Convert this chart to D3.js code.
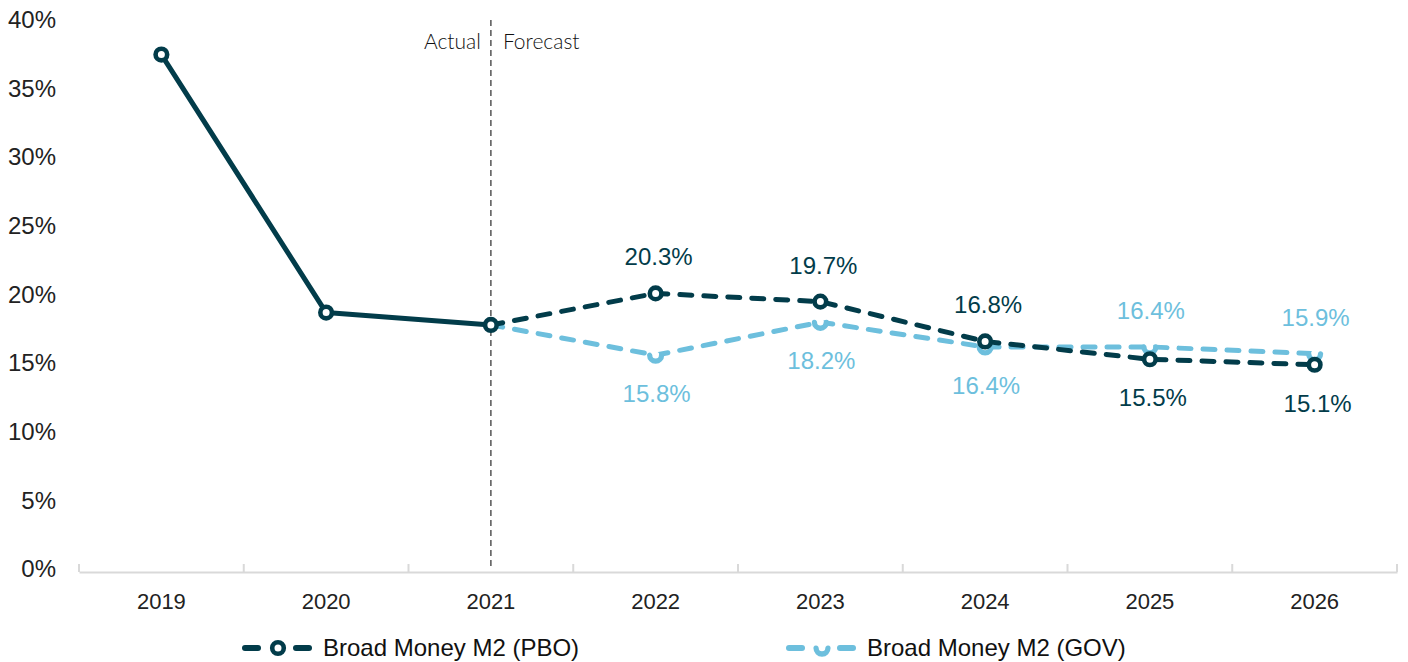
<!DOCTYPE html>
<html>
<head>
<meta charset="utf-8">
<script src="https://cdn.jsdelivr.net/npm/d3@7"></script>
<style>
  html, body { margin: 0; padding: 0; background: #fff; }
  svg { display: block; }
</style>
</head>
<body>
<svg id="chart" width="1408" height="662"></svg>
<script>
// ---------- data ----------
const years = ["2019", "2020", "2021", "2022", "2023", "2024", "2025", "2026"];
const pboValues = [37.7, 18.9, 18.0, 20.3, 19.7, 16.8, 15.5, 15.1];
const govValues = [null, null, 18.0, 15.8, 18.2, 16.4, 16.4, 15.9];
const lastActualYear = "2021";
const yTicks = [0, 5, 10, 15, 20, 25, 30, 35, 40];
const seriesNames = ["Broad Money M2 (PBO)", "Broad Money M2 (GOV)"];
const dividerLabels = ["Actual", "Forecast"];

// ---------- style ----------
const DARK = "#023c4a";
const LIGHT = "#6dbfdd";
const FONT = "'Liberation Sans', Arial, Helvetica, sans-serif";

const svg = d3.select("#chart");
const x = d3.scaleBand().domain(years).range([79, 1397]).paddingInner(0).paddingOuter(0);
const y = d3.scaleLinear().domain([0, 40]).range([572, 23]);
const cx = d => x(d) + x.bandwidth() / 2;

// ---------- y axis labels ----------
const yAxis = d3.axisLeft(y).tickValues(yTicks).tickFormat(d => d + "%").tickSize(0).tickPadding(0);
const yg = svg.append("g").attr("transform", "translate(56,-3)").call(yAxis);
yg.select(".domain").remove();
yg.selectAll("text").attr("font-family", FONT).attr("font-size", 24).attr("fill", "#222");

// ---------- x axis ----------
const xAxis = d3.axisBottom(x).tickSize(0).tickPadding(0);
const xg = svg.append("g").attr("transform", "translate(0,572)").call(xAxis);
xg.select(".domain").attr("stroke", "#d9d9d9").attr("stroke-width", 2);
xg.selectAll("text").attr("font-family", FONT).attr("font-size", 22).attr("fill", "#222")
  .attr("dy", 0).attr("y", 37);
// tick marks at band boundaries
const bounds = years.map(d => x(d)).concat([x(years[years.length - 1]) + x.bandwidth()]);
svg.append("g").selectAll("line").data(bounds).join("line")
  .attr("x1", d => d).attr("x2", d => d).attr("y1", 564).attr("y2", 572)
  .attr("stroke", "#d9d9d9").attr("stroke-width", 2);

// ---------- actual / forecast divider ----------
const divX = cx(lastActualYear);
svg.append("line").attr("x1", divX).attr("x2", divX).attr("y1", y(40) - 3).attr("y2", 570)
  .attr("stroke", "#555").attr("stroke-width", 1.5).attr("stroke-dasharray", "6,4");
svg.append("text").attr("x", divX - 10).attr("y", 49).attr("text-anchor", "end")
  .attr("font-family", "'Lato', 'Noto Sans', sans-serif").attr("font-weight", 300)
  .attr("font-size", 21).attr("fill", "#111").text(dividerLabels[0]);
svg.append("text").attr("x", divX + 12).attr("y", 49).attr("text-anchor", "start")
  .attr("font-family", "'Lato', 'Noto Sans', sans-serif").attr("font-weight", 300)
  .attr("font-size", 21).attr("fill", "#111").text(dividerLabels[1]);

// ---------- lines ----------
const line = d3.line().defined(d => d.v != null).x(d => cx(d.year)).y(d => y(d.v));
const pbo = years.map((yr, i) => ({ year: yr, v: pboValues[i] }));
const gov = years.map((yr, i) => ({ year: yr, v: govValues[i] }));
const splitIdx = years.indexOf(lastActualYear);
const DASH = "12,12";

// GOV first (drawn beneath PBO)
svg.append("path").datum(gov.slice(splitIdx)).attr("d", line)
  .attr("fill", "none").attr("stroke", LIGHT).attr("stroke-width", 5)
  .attr("stroke-linecap", "round").attr("stroke-dasharray", DASH);

svg.append("path").datum(pbo.slice(0, splitIdx + 1)).attr("d", line)
  .attr("fill", "none").attr("stroke", DARK).attr("stroke-width", 5)
  .attr("stroke-linejoin", "round");
svg.append("path").datum(pbo.slice(splitIdx)).attr("d", line)
  .attr("fill", "none").attr("stroke", DARK).attr("stroke-width", 5)
  .attr("stroke-linecap", "round").attr("stroke-dasharray", DASH);

// ---------- markers ----------
const cupArc = d3.arc().innerRadius(3.3).outerRadius(8.6)
  .startAngle(Math.PI * 0.36).endAngle(Math.PI * 1.64).cornerRadius(2.6);

function drawCup(g, px, py) {
  g.append("circle").attr("cx", px).attr("cy", py).attr("r", 3.6).attr("fill", "#fff");
  g.append("path").attr("d", cupArc()).attr("transform", `translate(${px},${py})`).attr("fill", LIGHT);
}
function drawRing(g, px, py) {
  g.append("circle").attr("cx", px).attr("cy", py).attr("r", 5.8)
    .attr("fill", "#fff").attr("stroke", DARK).attr("stroke-width", 4.6);
}

const govMarks = svg.append("g");
gov.filter(d => d.v != null && d.year !== lastActualYear).forEach(d => drawCup(govMarks, cx(d.year), y(d.v)));
const pboMarks = svg.append("g");
pbo.forEach(d => drawRing(pboMarks, cx(d.year), y(d.v)));

// ---------- data labels (forecast years) ----------
const labelG = svg.append("g").attr("font-family", FONT).attr("font-size", 24).attr("text-anchor", "middle");
years.forEach((yr, i) => {
  if (i <= splitIdx) return;
  const p = pboValues[i], g = govValues[i];
  const pboAbove = p >= g;
  labelG.append("text").attr("x", cx(yr) + 3).attr("y", y(p) + (pboAbove ? -28 : 47))
    .attr("fill", DARK).text(p.toFixed(1) + "%");
  labelG.append("text").attr("x", cx(yr) + 1).attr("y", y(g) + (pboAbove ? 47 : -28))
    .attr("fill", LIGHT).text(g.toFixed(1) + "%");
});

// ---------- legend ----------
const legend = svg.append("g");
const legendItems = [
  { name: seriesNames[0], cx: 278, color: DARK, marker: "ring" },
  { name: seriesNames[1], cx: 822, color: LIGHT, marker: "cup" }
];
const ly = 648;
legendItems.forEach(it => {
  [[-33, -20], [18, 31]].forEach(([a, b]) => {
    legend.append("line").attr("x1", it.cx + a).attr("x2", it.cx + b).attr("y1", ly).attr("y2", ly)
      .attr("stroke", it.color).attr("stroke-width", 6).attr("stroke-linecap", "round");
  });
  if (it.marker === "ring") drawRing(legend, it.cx, ly);
  else drawCup(legend, it.cx, ly);
  legend.append("text").attr("x", it.cx + 45).attr("y", ly + 8)
    .attr("font-family", FONT).attr("font-size", 24).attr("fill", "#111").text(it.name);
});
</script>
</body>
</html>
